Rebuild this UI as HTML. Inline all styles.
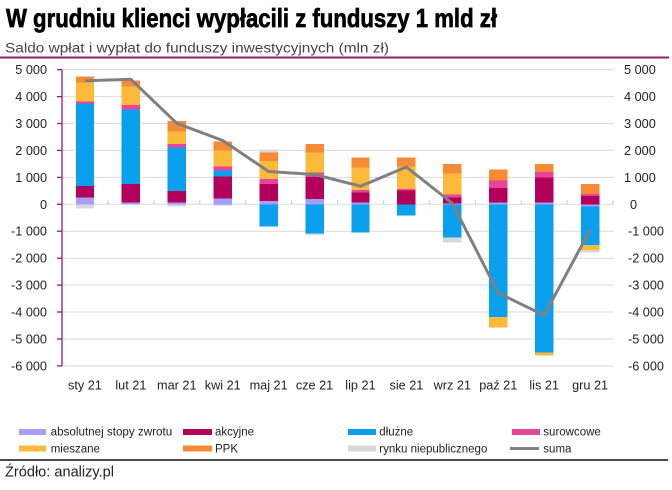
<!DOCTYPE html>
<html><head><meta charset="utf-8"><style>
html,body{margin:0;padding:0;background:#fff;}
svg{display:block;}
text{font-family:"Liberation Sans",Arial,sans-serif;}
</style></head><body>
<svg width="672" height="490" viewBox="0 0 672 490" xmlns="http://www.w3.org/2000/svg">
<rect width="672" height="490" fill="#fff"/>
<text x="6" y="27" font-size="26" font-weight="bold" fill="#000" stroke="#000" stroke-width="0.7" textLength="491" lengthAdjust="spacingAndGlyphs">W grudniu klienci wypłacili z funduszy 1 mld zł</text>
<text x="5" y="52.5" font-size="13.5" fill="#444" textLength="384" lengthAdjust="spacingAndGlyphs">Saldo wpłat i wypłat do funduszy inwestycyjnych (mln zł)</text>
<line x1="0" y1="57.5" x2="669" y2="57.5" stroke="#8e1f6e" stroke-width="2"/>

<!-- gridlines -->
<g stroke="#d9d9d9" stroke-width="1">
<line x1="62" y1="69.65" x2="614" y2="69.65"/>
<line x1="62" y1="96.6" x2="614" y2="96.6"/>
<line x1="62" y1="123.5" x2="614" y2="123.5"/>
<line x1="62" y1="150.4" x2="614" y2="150.4"/>
<line x1="62" y1="177.4" x2="614" y2="177.4"/>
<line x1="62" y1="204.3" x2="614" y2="204.3"/>
<line x1="62" y1="231.2" x2="614" y2="231.2"/>
<line x1="62" y1="258.2" x2="614" y2="258.2"/>
<line x1="62" y1="285.1" x2="614" y2="285.1"/>
<line x1="62" y1="312" x2="614" y2="312"/>
<line x1="62" y1="339" x2="614" y2="339"/>
<line x1="62" y1="365.9" x2="614" y2="365.9"/>
</g>
<g stroke="#c8c8c8" stroke-width="1">
<line x1="107.9" y1="200.3" x2="107.9" y2="204.3"/>
<line x1="153.8" y1="200.3" x2="153.8" y2="204.3"/>
<line x1="199.8" y1="200.3" x2="199.8" y2="204.3"/>
<line x1="245.7" y1="200.3" x2="245.7" y2="204.3"/>
<line x1="291.6" y1="200.3" x2="291.6" y2="204.3"/>
<line x1="337.5" y1="200.3" x2="337.5" y2="204.3"/>
<line x1="383.4" y1="200.3" x2="383.4" y2="204.3"/>
<line x1="429.4" y1="200.3" x2="429.4" y2="204.3"/>
<line x1="475.3" y1="200.3" x2="475.3" y2="204.3"/>
<line x1="521.2" y1="200.3" x2="521.2" y2="204.3"/>
<line x1="567.1" y1="200.3" x2="567.1" y2="204.3"/>
<line x1="613" y1="200.3" x2="613" y2="204.3"/>
</g>

<!-- bars -->
<g shape-rendering="crispEdges">
<!-- sty -->
<rect x="75.76" y="197.7" width="18.4" height="6.6" fill="#a3a0f5"/>
<rect x="75.76" y="186" width="18.4" height="11.7" fill="#b3005a"/>
<rect x="75.76" y="103.3" width="18.4" height="82.7" fill="#0aa0ee"/>
<rect x="75.76" y="101.3" width="18.4" height="2" fill="#e8449c"/>
<rect x="75.76" y="82.7" width="18.4" height="18.6" fill="#fcb93a"/>
<rect x="75.76" y="76.7" width="18.4" height="6" fill="#f78b35"/>
<rect x="75.76" y="204.3" width="18.4" height="4" fill="#d8d8d8"/>
<!-- lut -->
<rect x="121.68" y="202.3" width="18.4" height="2" fill="#a3a0f5"/>
<rect x="121.68" y="184" width="18.4" height="18.3" fill="#b3005a"/>
<rect x="121.68" y="109.3" width="18.4" height="74.7" fill="#0aa0ee"/>
<rect x="121.68" y="105" width="18.4" height="4.3" fill="#e8449c"/>
<rect x="121.68" y="86.7" width="18.4" height="18.3" fill="#fcb93a"/>
<rect x="121.68" y="80.7" width="18.4" height="6" fill="#f78b35"/>
<!-- mar -->
<rect x="167.6" y="202.3" width="18.4" height="2" fill="#a3a0f5"/>
<rect x="167.6" y="191" width="18.4" height="11.3" fill="#b3005a"/>
<rect x="167.6" y="147.7" width="18.4" height="43.3" fill="#0aa0ee"/>
<rect x="167.6" y="144" width="18.4" height="3.7" fill="#e8449c"/>
<rect x="167.6" y="131.7" width="18.4" height="12.3" fill="#fcb93a"/>
<rect x="167.6" y="121" width="18.4" height="10.7" fill="#f78b35"/>
<rect x="167.6" y="204.3" width="18.4" height="2.4" fill="#d8d8d8"/>
<!-- kwi -->
<rect x="213.52" y="198.3" width="18.4" height="6" fill="#a3a0f5"/>
<rect x="213.52" y="176.7" width="18.4" height="21.6" fill="#b3005a"/>
<rect x="213.52" y="170.7" width="18.4" height="6" fill="#0aa0ee"/>
<rect x="213.52" y="166.7" width="18.4" height="4" fill="#e8449c"/>
<rect x="213.52" y="150.7" width="18.4" height="16" fill="#fcb93a"/>
<rect x="213.52" y="141.7" width="18.4" height="9" fill="#f78b35"/>
<rect x="213.52" y="204.3" width="18.4" height="1.4" fill="#c9c8ee"/>
<!-- maj -->
<rect x="259.44" y="201" width="18.4" height="3.3" fill="#a3a0f5"/>
<rect x="259.44" y="184" width="18.4" height="17" fill="#b3005a"/>
<rect x="259.44" y="179" width="18.4" height="5" fill="#e8449c"/>
<rect x="259.44" y="161" width="18.4" height="18" fill="#fcb93a"/>
<rect x="259.44" y="152.7" width="18.4" height="8.3" fill="#f78b35"/>
<rect x="259.44" y="149.3" width="18.4" height="3.4" fill="#d8d8d8"/>
<rect x="259.44" y="204.3" width="18.4" height="22.4" fill="#0aa0ee"/>
<!-- cze -->
<rect x="305.36" y="199" width="18.4" height="5.3" fill="#a3a0f5"/>
<rect x="305.36" y="177" width="18.4" height="22" fill="#b3005a"/>
<rect x="305.36" y="172.7" width="18.4" height="4.3" fill="#e8449c"/>
<rect x="305.36" y="152.3" width="18.4" height="20.4" fill="#fcb93a"/>
<rect x="305.36" y="144" width="18.4" height="8.3" fill="#f78b35"/>
<rect x="305.36" y="204.3" width="18.4" height="29" fill="#0aa0ee"/>
<rect x="305.36" y="233.3" width="18.4" height="1.7" fill="#d8d8d8"/>
<!-- lip -->
<rect x="351.28" y="202.7" width="18.4" height="1.6" fill="#a3a0f5"/>
<rect x="351.28" y="192.7" width="18.4" height="10" fill="#b3005a"/>
<rect x="351.28" y="190" width="18.4" height="2.7" fill="#e8449c"/>
<rect x="351.28" y="167.7" width="18.4" height="22.3" fill="#fcb93a"/>
<rect x="351.28" y="157.7" width="18.4" height="10" fill="#f78b35"/>
<rect x="351.28" y="204.3" width="18.4" height="28.4" fill="#0aa0ee"/>
<!-- sie -->
<rect x="397.2" y="190.7" width="18.4" height="13.6" fill="#b3005a"/>
<rect x="397.2" y="189" width="18.4" height="1.7" fill="#e8449c"/>
<rect x="397.2" y="166.7" width="18.4" height="22.3" fill="#fcb93a"/>
<rect x="397.2" y="157.7" width="18.4" height="9" fill="#f78b35"/>
<rect x="397.2" y="204.3" width="18.4" height="11.4" fill="#0aa0ee"/>
<!-- wrz -->
<rect x="443.12" y="203.3" width="18.4" height="1" fill="#a3a0f5"/>
<rect x="443.12" y="197.7" width="18.4" height="5.6" fill="#b3005a"/>
<rect x="443.12" y="194.7" width="18.4" height="3" fill="#e8449c"/>
<rect x="443.12" y="173.3" width="18.4" height="21.4" fill="#fcb93a"/>
<rect x="443.12" y="164" width="18.4" height="9.3" fill="#f78b35"/>
<rect x="443.12" y="204.3" width="18.4" height="33.4" fill="#0aa0ee"/>
<rect x="443.12" y="237.7" width="18.4" height="4.6" fill="#d8d8d8"/>
<!-- paz -->
<rect x="489.04" y="202.3" width="18.4" height="2" fill="#a3a0f5"/>
<rect x="489.04" y="188" width="18.4" height="14.3" fill="#b3005a"/>
<rect x="489.04" y="180.7" width="18.4" height="7.3" fill="#e8449c"/>
<rect x="489.04" y="169.3" width="18.4" height="11.4" fill="#f78b35"/>
<rect x="489.04" y="204.3" width="18.4" height="112.7" fill="#0aa0ee"/>
<rect x="489.04" y="317" width="18.4" height="10.7" fill="#fcb93a"/>
<!-- lis -->
<rect x="534.96" y="202.3" width="18.4" height="2" fill="#a3a0f5"/>
<rect x="534.96" y="177.3" width="18.4" height="25" fill="#b3005a"/>
<rect x="534.96" y="172" width="18.4" height="5.3" fill="#e8449c"/>
<rect x="534.96" y="164" width="18.4" height="8" fill="#f78b35"/>
<rect x="534.96" y="204.3" width="18.4" height="148.4" fill="#0aa0ee"/>
<rect x="534.96" y="352.7" width="18.4" height="3" fill="#fcb93a"/>
<!-- gru -->
<rect x="580.88" y="196" width="18.4" height="8.3" fill="#b3005a"/>
<rect x="580.88" y="194" width="18.4" height="2" fill="#e8449c"/>
<rect x="580.88" y="184" width="18.4" height="10" fill="#f78b35"/>
<rect x="580.88" y="204.3" width="18.4" height="2.4" fill="#a3a0f5"/>
<rect x="580.88" y="206.7" width="18.4" height="38.3" fill="#0aa0ee"/>
<rect x="580.88" y="245" width="18.4" height="5" fill="#fcb93a"/>
<rect x="580.88" y="250" width="18.4" height="2.3" fill="#d8d8d8"/>
</g>

<!-- suma line -->
<polyline fill="none" stroke="#808080" stroke-width="3" stroke-linejoin="round" points="84.96,80.7 130.88,79.3 176.8,123.3 222.72,140.5 268.64,171.5 314.56,174.5 360.48,186.2 406.4,167 452.32,203.3 498.24,293 544.16,315.3 590.08,230"/>

<!-- left axis -->
<g stroke="#9a1a6e" stroke-width="1.3">
<line x1="62" y1="69.65" x2="62" y2="365.9"/>
<line x1="57" y1="69.65" x2="62" y2="69.65"/>
<line x1="57" y1="96.6" x2="62" y2="96.6"/>
<line x1="57" y1="123.5" x2="62" y2="123.5"/>
<line x1="57" y1="150.4" x2="62" y2="150.4"/>
<line x1="57" y1="177.4" x2="62" y2="177.4"/>
<line x1="57" y1="204.3" x2="62" y2="204.3"/>
<line x1="57" y1="231.2" x2="62" y2="231.2"/>
<line x1="57" y1="258.2" x2="62" y2="258.2"/>
<line x1="57" y1="285.1" x2="62" y2="285.1"/>
<line x1="57" y1="312" x2="62" y2="312"/>
<line x1="57" y1="339" x2="62" y2="339"/>
<line x1="57" y1="365.9" x2="62" y2="365.9"/>
</g>

<g font-size="12.7" fill="#222" text-anchor="end">
<text x="47" y="74.2">5 000</text>
<text x="47" y="101.1">4 000</text>
<text x="47" y="128">3 000</text>
<text x="47" y="154.9">2 000</text>
<text x="47" y="181.9">1 000</text>
<text x="47" y="208.8">0</text>
<text x="47" y="235.7">-1 000</text>
<text x="47" y="262.7">-2 000</text>
<text x="47" y="289.6">-3 000</text>
<text x="47" y="316.5">-4 000</text>
<text x="47" y="343.5">-5 000</text>
<text x="47" y="370.4">-6 000</text>
</g>
<g font-size="12.7" fill="#222">
<text x="624" y="74.2">5 000</text>
<text x="624" y="101.1">4 000</text>
<text x="624" y="128">3 000</text>
<text x="624" y="154.9">2 000</text>
<text x="624" y="181.9">1 000</text>
<text x="630" y="208.8">0</text>
<text x="628" y="235.7">-1 000</text>
<text x="628" y="262.7">-2 000</text>
<text x="628" y="289.6">-3 000</text>
<text x="628" y="316.5">-4 000</text>
<text x="628" y="343.5">-5 000</text>
<text x="628" y="370.4">-6 000</text>
</g>
<g font-size="12.7" fill="#222" text-anchor="middle">
<text x="84.96" y="389.5">sty 21</text>
<text x="130.88" y="389.5">lut 21</text>
<text x="176.8" y="389.5">mar 21</text>
<text x="222.72" y="389.5">kwi 21</text>
<text x="268.64" y="389.5">maj 21</text>
<text x="314.56" y="389.5">cze 21</text>
<text x="360.48" y="389.5">lip 21</text>
<text x="406.4" y="389.5">sie 21</text>
<text x="452.32" y="389.5">wrz 21</text>
<text x="498.24" y="389.5">paź 21</text>
<text x="544.16" y="389.5">lis 21</text>
<text x="590.08" y="389.5">gru 21</text>
</g>

<!-- legend -->
<g shape-rendering="crispEdges">
<rect x="19" y="429" width="27" height="6" fill="#a3a0f5"/>
<rect x="183" y="429" width="29" height="6" fill="#b3005a"/>
<rect x="348" y="429" width="28" height="6" fill="#0aa0ee"/>
<rect x="512" y="429" width="28" height="6" fill="#e8449c"/>
<rect x="19" y="445.5" width="27" height="6" fill="#fcb93a"/>
<rect x="183" y="445.5" width="29" height="6" fill="#f78b35"/>
<rect x="348" y="445.5" width="28" height="6" fill="#d8d8d8"/>
<rect x="510" y="447" width="29" height="3" fill="#808080"/>
</g>
<g font-size="11.5" fill="#222">
<text x="50.7" y="435.7" textLength="121.5" lengthAdjust="spacingAndGlyphs">absolutnej stopy zwrotu</text>
<text x="215" y="435.7">akcyjne</text>
<text x="379.3" y="435.7">dłużne</text>
<text x="543.3" y="435.7">surowcowe</text>
<text x="50.7" y="452.3">mieszane</text>
<text x="215" y="452.3">PPK</text>
<text x="379.3" y="452.3">rynku niepublicznego</text>
<text x="543.3" y="452.3">suma</text>
</g>
<line x1="0" y1="460" x2="668" y2="460" stroke="#111" stroke-width="1.5"/>
<text x="5" y="476.5" font-size="14.5" fill="#222" textLength="109" lengthAdjust="spacingAndGlyphs">Źródło: analizy.pl</text>
</svg>
</body></html>
